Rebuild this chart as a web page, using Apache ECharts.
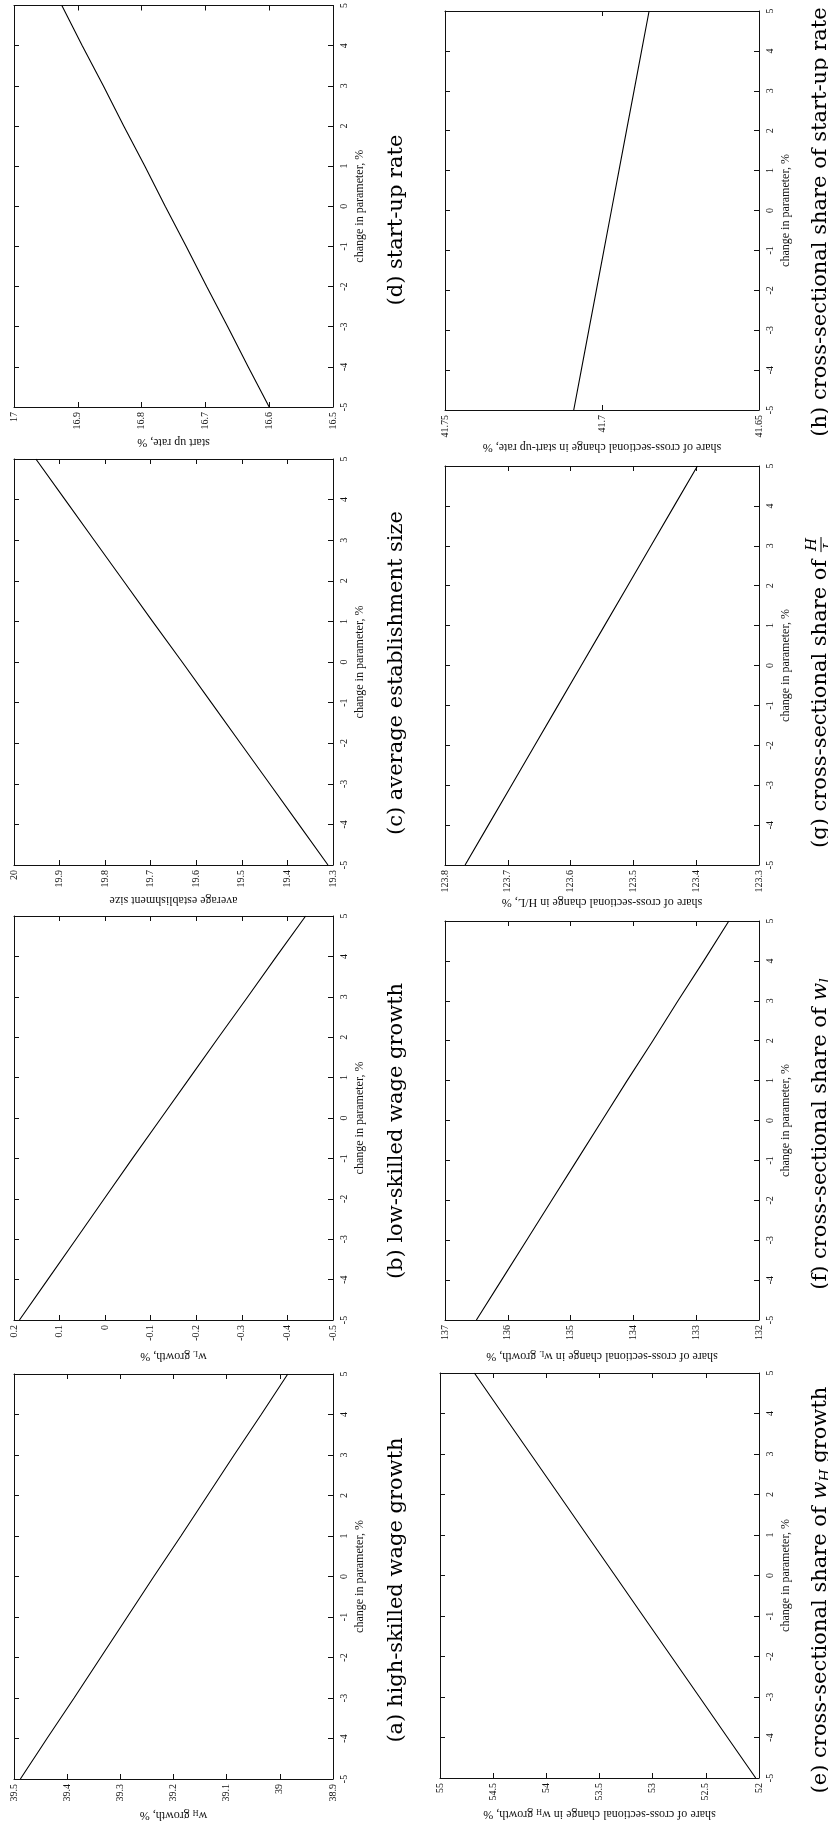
<!DOCTYPE html>
<html>
<head>
<meta charset="utf-8">
<script src="https://cdn.jsdelivr.net/npm/echarts@6/dist/echarts.min.js"></script>
<style>
html,body{margin:0;padding:0;background:#fff;}
#chart{width:828px;height:1830px;}
</style>
</head>
<body>
<div id="chart"></div>
<script>
// ---------- DATA ----------
const paramChange = [-5, -4, -3, -2, -1, 0, 1, 2, 3, 4, 5];

const highSkilledWageGrowth = [39.488, 39.438, 39.387, 39.337, 39.287, 39.237, 39.186, 39.136, 39.086, 39.035, 38.985];
const lowSkilledWageGrowth  = [0.188, 0.126, 0.064, 0.002, -0.060, -0.123, -0.186, -0.249, -0.313, -0.376, -0.440];
const avgEstablishmentSize  = [19.311, 19.375, 19.439, 19.503, 19.567, 19.631, 19.696, 19.760, 19.824, 19.888, 19.952];
const startUpRate           = [16.600, 16.633, 16.665, 16.698, 16.730, 16.763, 16.795, 16.828, 16.860, 16.893, 16.925];
const shareWH               = [52.031, 52.296, 52.560, 52.825, 53.090, 53.354, 53.619, 53.883, 54.148, 54.413, 54.677];
const shareWL               = [136.50, 136.10, 135.70, 135.30, 134.90, 134.50, 134.10, 133.69, 133.29, 132.88, 132.48];
const shareHL               = [123.768, 123.731, 123.694, 123.657, 123.620, 123.583, 123.546, 123.509, 123.472, 123.435, 123.398];
const shareStartUp          = [41.709, 41.7066, 41.7042, 41.7018, 41.6994, 41.697, 41.6946, 41.6922, 41.6898, 41.6874, 41.685];

// value-axis ranges [min, max, interval]
const rangeA = [38.9, 39.5, 0.1];
const rangeB = [-0.5, 0.2, 0.1];
const rangeC = [19.3, 20, 0.1];
const rangeD = [16.5, 17, 0.1];
const rangeE = [52, 55, 0.5];
const rangeF = [132, 137, 1];
const rangeG = [123.3, 123.8, 0.1];
const rangeH = [41.65, 41.75, 0.05];
const paramRange = [-5, 5, 1];

const paramAxisName = 'change in parameter, %';
const valueAxisNames = [
  '{n|w}{s|H}{n| growth, %}',
  '{n|w}{s|L}{n| growth, %}',
  'average establishment size',
  'start up rate, %',
  '{n|share of cross-sectional change in w}{s|H}{n| growth, %}',
  '{n|share of cross-sectional change in w}{s|L}{n| growth, %}',
  'share of cross-sectional change in H/L, %',
  'share of cross-sectional change in start-up rate, %'
];
const captions = [
  '(a) high-skilled wage growth',
  '(b) low-skilled wage growth',
  '(c) average establishment size',
  '(d) start-up rate',
  '(e) cross-sectional share of {i|w}{is|H} growth',
  '(f) cross-sectional share of {i|w}{is|l}',
  '(g) cross-sectional share of ',
  '(h) cross-sectional share of start-up rate'
];

// ---------- LAYOUT ----------
const seriesData = [highSkilledWageGrowth, lowSkilledWageGrowth, avgEstablishmentSize, startUpRate,
                    shareWH, shareWL, shareHL, shareStartUp];
const ranges = [rangeA, rangeB, rangeC, rangeD, rangeE, rangeF, rangeG, rangeH];
const grids = [
  {left: 14, top: 1374, width: 319, height: 405},
  {left: 14, top: 916,  width: 319, height: 404},
  {left: 14, top: 459,  width: 319, height: 406},
  {left: 14, top: 4,    width: 319, height: 403},
  {left: 440, top: 1373, width: 319, height: 405},
  {left: 445, top: 921,  width: 314, height: 399},
  {left: 445, top: 466,  width: 314, height: 399},
  {left: 445, top: 11,   width: 314, height: 399}
];
const captionPos = [[397, 1590], [397, 1131], [397, 673], [397, 220],
                    [821, 1590], [821, 1134], [821, 692], [821, 222]];

const SERIF = 'Liberation Serif';
const CAPF = 'DejaVu Serif';
const CAPS = 21;
const INK = '#111';

const nameRich = {
  n: {fontFamily: SERIF, fontSize: 12, color: INK, lineHeight: 14},
  s: {fontFamily: SERIF, fontSize: 8, color: INK, lineHeight: 8, verticalAlign: 'bottom'}
};

const xAxes = [], yAxes = [], series = [];
ranges.forEach((r, i) => {
  const lineCommon = {show: true, onZero: false, lineStyle: {color: INK, width: 1}};
  const tickCommon = {show: true, inside: true, length: 5, lineStyle: {color: INK, width: 1}};
  xAxes.push({
    gridIndex: i, type: 'value', position: 'bottom', inverse: true,
    min: r[0], max: r[1], interval: r[2],
    axisLine: lineCommon, axisTick: tickCommon, splitLine: {show: false},
    axisLabel: {show: true, rotate: 90, margin: 5, fontFamily: SERIF, fontSize: 10, color: INK},
    name: valueAxisNames[i], nameLocation: 'middle', nameRotate: 180, nameGap: 29,
    nameTextStyle: {fontFamily: SERIF, fontSize: 12, color: INK, rich: nameRich}
  });
  xAxes.push({
    gridIndex: i, type: 'value', position: 'top', inverse: true,
    min: r[0], max: r[1], interval: r[2],
    axisLine: lineCommon, axisTick: tickCommon, splitLine: {show: false},
    axisLabel: {show: false}
  });
  yAxes.push({
    gridIndex: i, type: 'value', position: 'right',
    min: paramRange[0], max: paramRange[1], interval: paramRange[2],
    axisLine: lineCommon, axisTick: tickCommon, splitLine: {show: false},
    axisLabel: {show: true, rotate: 90, margin: 6, fontFamily: SERIF, fontSize: 10, color: INK},
    name: paramAxisName, nameLocation: 'middle', nameRotate: 90, nameGap: 21,
    nameTextStyle: {fontFamily: SERIF, fontSize: 12, color: INK}
  });
  yAxes.push({
    gridIndex: i, type: 'value', position: 'left',
    min: paramRange[0], max: paramRange[1], interval: paramRange[2],
    axisLine: lineCommon, axisTick: tickCommon, splitLine: {show: false},
    axisLabel: {show: false}
  });
  series.push({
    type: 'line', xAxisIndex: 2 * i, yAxisIndex: 2 * i,
    data: seriesData[i].map((v, k) => [v, paramChange[k]]),
    showSymbol: false, symbol: 'none', smooth: false,
    lineStyle: {color: '#000', width: 1.1}
  });
});

// ---------- CAPTIONS ----------
function measure(text, font) {
  const ctx = document.createElement('canvas').getContext('2d');
  ctx.font = font;
  return ctx.measureText(text).width;
}
const capRich = {
  i: {fontFamily: CAPF, fontSize: CAPS, fontStyle: 'italic', fill: '#000', lineHeight: 24},
  is: {fontFamily: CAPF, fontSize: 14, fontStyle: 'italic', fill: '#000', lineHeight: 14, verticalAlign: 'bottom'}
};
const graphics = captions.map((c, i) => {
  const [cx, cy] = captionPos[i];
  if (i === 6) {
    const mainW = measure(c, CAPS + 'px "' + CAPF + '"');
    const fracW = measure('H', 'italic 15px "' + CAPF + '"') + 4;
    const W = mainW + fracW;
    const fx = -W / 2 + mainW;
    return {
      type: 'group', x: cx, y: cy, rotation: Math.PI / 2,
      children: [
        {type: 'text', x: -W / 2, y: 0,
         style: {text: c, fontFamily: CAPF, fontSize: CAPS, fill: '#000', align: 'left', textAlign: 'left', verticalAlign: 'middle', textVerticalAlign: 'middle'}},
        {type: 'text', x: fx + fracW / 2, y: -9,
         style: {text: 'H', fontFamily: CAPF, fontSize: 15, fontStyle: 'italic', fill: '#000', align: 'center', textAlign: 'center', verticalAlign: 'middle', textVerticalAlign: 'middle'}},
        {type: 'line', shape: {x1: fx + 1, y1: 0, x2: fx + fracW - 1, y2: 0}, style: {stroke: '#000', lineWidth: 1}},
        {type: 'text', x: fx + fracW / 2, y: 9,
         style: {text: 'L', fontFamily: CAPF, fontSize: 15, fontStyle: 'italic', fill: '#000', align: 'center', textAlign: 'center', verticalAlign: 'middle', textVerticalAlign: 'middle'}}
      ]
    };
  }
  return {
    type: 'text', x: cx, y: cy, rotation: Math.PI / 2,
    style: {text: c, fontFamily: CAPF, fontSize: CAPS, fill: '#000', lineHeight: 24,
            align: 'center', textAlign: 'center', verticalAlign: 'middle', textVerticalAlign: 'middle', rich: capRich}
  };
});

const chart = echarts.init(document.getElementById('chart'), null, {renderer: 'canvas'});
chart.setOption({
  animation: false,
  backgroundColor: '#fff',
  grid: grids.map(g => Object.assign({containLabel: false}, g)),
  xAxis: xAxes,
  yAxis: yAxes,
  series: series,
  graphic: graphics
});
</script>
</body>
</html>
